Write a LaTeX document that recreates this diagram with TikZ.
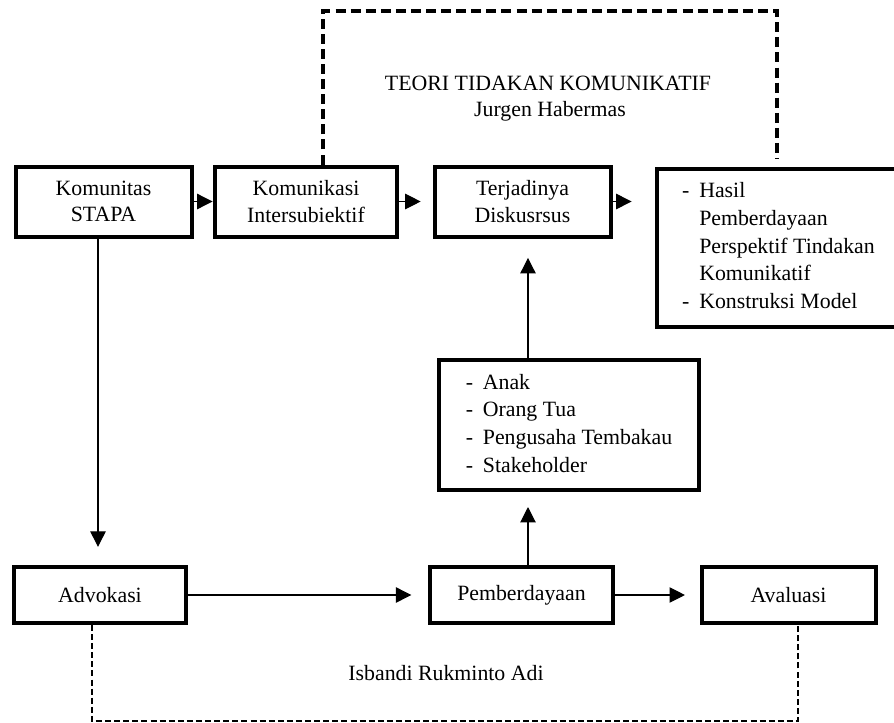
\documentclass[tikz,border=0pt]{standalone}
\usepackage{fontspec}
\setmainfont{Liberation Serif}
\usetikzlibrary{arrows.meta}
\newcommand{\daftar}[1]{{\renewcommand{\arraystretch}{1.05}%
  \begin{tabular}{@{}l@{\hspace{5.4pt}}l@{}}#1\end{tabular}}}
\begin{document}
\begin{tikzpicture}[x=0.55pt, y=-0.55pt, font=\fontsize{12}{14.5}\selectfont,
    kotak/.style={draw, line width=2.2pt, align=center, inner sep=0pt, minimum height=38.5pt},
    panah/.style={-{Triangle[length=8.5pt,width=8.5pt]}, line width=0.6pt},
    garisatas/.style={line width=1.9pt, dash pattern=on 5.5pt off 2.8pt},
    garisbawah/.style={line width=1.1pt, dash pattern=on 3.3pt off 1.7pt}]
				\useasboundingbox (0,0) rectangle (894,723);
				\clip (0,0) rectangle (894,723);
				% Kotak baris atas
				\node[kotak, minimum width=96.8pt] (komunitas) at (103.5,201.5) {Komunitas\\STAPA};
				\node[kotak, minimum width=100.6pt] (intersub) at (306,201.5) {Komunikasi\\Intersubiektif};
				\node[kotak, minimum width=96.8pt] (diskursus) at (522.5,201.5) {Terjadinya\\Diskusrsus};
				\node[kotak, minimum width=133.6pt, minimum height=86.9pt] (hasil) at (778.5,247.5)
					{\daftar{- & Hasil\\ & Pemberdayaan\\ & Perspektif Tindakan\\ & Komunikatif\\ - & Konstruksi Model}};
				% Kotak tengah
				\node[kotak, minimum width=142.5pt, minimum height=72pt] (pihak) at (569,425)
					{\daftar{- & Anak\\ - & Orang Tua\\ - & Pengusaha Tembakau\\ - & Stakeholder}};
				% Kotak baris bawah
				\node[kotak, minimum width=95pt, minimum height=30.8pt] (advokasi) at (100,595) {Advokasi};
				\node[kotak, minimum width=101pt, minimum height=30.8pt] (pemberdayaan) at (521.5,595) {Pemberdayaan};
				\node[kotak, minimum width=95.7pt, minimum height=30.8pt] (avaluasi) at (788.5,595) {Avaluasi};
				% Teks
				\node (teori) at (548,83) {TEORI TIDAKAN KOMUNIKATIF};
				\node (habermas) at (550,111) {Jurgen Habermas};
				\node (isbandi) at (446,673) {Isbandi Rukminto Adi};
				% Titik bantu
				\coordinate (kiri) at (98,0);
				\coordinate (tengah) at (528,0);
				\coordinate (atasKiri) at (323,11);
				\coordinate (atasKanan) at (777,11);
				\coordinate (bawahKiri) at (92,721);
				\coordinate (bawahKanan) at (798,721);
				% Panah
				\draw[panah] (komunitas.east) -- (intersub.west);
				\draw[panah, shorten >=6.5pt] (intersub.east) -- (diskursus.west);
				\draw[panah, shorten >=12.9pt] (diskursus.east) -- (diskursus.east -| hasil.west);
				\draw[panah, shorten >=10.7pt] (pihak.north -| tengah) -- (diskursus.south -| tengah);
				\draw[panah, shorten >=8pt] (pemberdayaan.north -| tengah) -- (pihak.south -| tengah);
				\draw[panah, shorten >=10pt] (komunitas.south -| kiri) -- (advokasi.north -| kiri);
				\draw[panah, shorten >=9pt] (advokasi.east) -- (pemberdayaan.west);
				\draw[panah, shorten >=8pt] (pemberdayaan.east) -- (avaluasi.west);
				% Garis putus-putus
				\draw[garisatas, shorten >=4pt] (intersub.north -| atasKiri) -- (atasKiri) -- (atasKanan) -- (hasil.north -| atasKanan);
				\draw[garisbawah] (advokasi.south -| bawahKiri) -- (bawahKiri) -- (bawahKanan) -- (avaluasi.south -| bawahKanan);
\end{tikzpicture}
\end{document}
